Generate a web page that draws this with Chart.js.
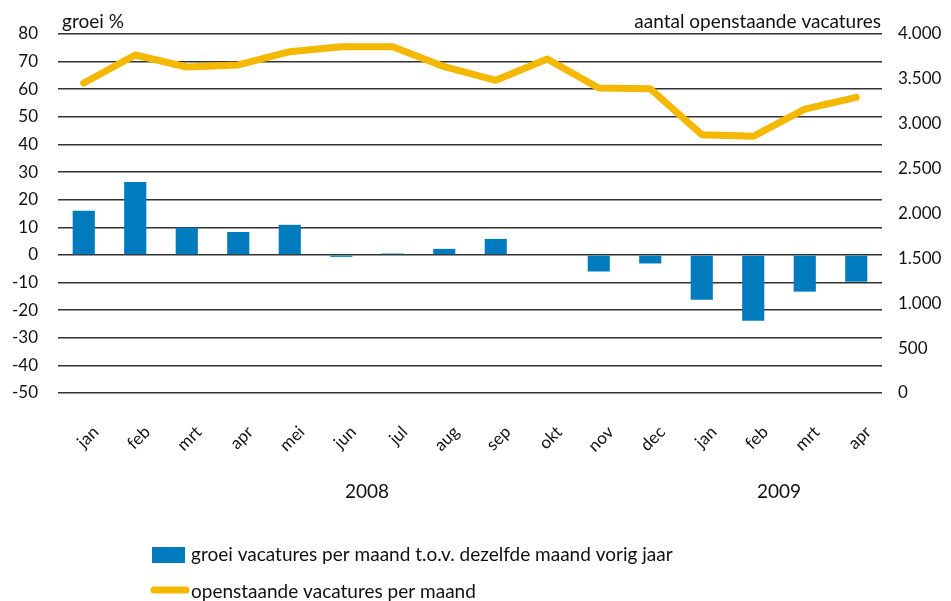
<!DOCTYPE html>
<html lang="nl">
<head>
<meta charset="UTF-8">
<title>Vacatures 2008-2009</title>
<script src="https://cdn.jsdelivr.net/npm/chart.js"></script>
<style>
  html, body { margin: 0; padding: 0; background: #fff; }
  #wrap { width: 951px; height: 601px; }
</style>
</head>
<body>
<div id="wrap"><canvas id="chart" width="951" height="601"></canvas></div>
<script>
// Gegevens
const months = ['jan', 'feb', 'mrt', 'apr', 'mei', 'jun', 'jul', 'aug', 'sep', 'okt', 'nov', 'dec', 'jan', 'feb', 'mrt', 'apr'];
const years = ['2008', '2009'];
const yearSpans = [[0, 11], [12, 15]]; // eerste en laatste maand per jaar
const growth = [16, 26.4, 9.9, 8.3, 10.9, -0.7, 0.5, 2.2, 5.8, 0, -6, -3.1, -16.2, -23.8, -13.3, -9.7];
const openVacancies = [3454, 3766, 3632, 3655, 3803, 3858, 3858, 3636, 3484, 3721, 3398, 3390, 2878, 2860, 3162, 3294];
const leftTicks = { min: -50, max: 80, step: 10 };
const rightTicks = { min: 0, max: 4000, step: 500 };

const FONT = 'Lato, "Open Sans", sans-serif';
const blue = '#007bbd';
const yellow = '#f4b800';

// titels, jaartallen en legenda
const extras = {
  id: 'extras',
  afterDraw(chart) {
    const c = chart.ctx;
    const area = chart.chartArea;
    const x = chart.scales.x;
    c.save();
    c.fillStyle = '#111';
    c.font = '19px ' + FONT;
    c.textBaseline = 'alphabetic';
    c.textAlign = 'left';
    c.fillText('groei %', area.left + 4, 28);
    c.textAlign = 'right';
    c.fillText('aantal openstaande vacatures', area.right - 1, 28);

    // jaartallen
    c.textAlign = 'center';
    c.font = '19px ' + FONT;
    years.forEach((y, i) => {
      const a = x.getPixelForValue(yearSpans[i][0]);
      const b = x.getPixelForValue(yearSpans[i][1]);
      c.fillText(y, (a + b) / 2, 498);
    });

    // legenda
    const bars = chart.data.datasets[1];
    const line = chart.data.datasets[0];
    c.textAlign = 'left';
    c.textBaseline = 'middle';
    c.font = '19px ' + FONT;
    c.fillStyle = bars.backgroundColor;
    c.fillRect(152, 547, 33, 16);
    c.fillStyle = '#111';
    c.fillText(bars.label, 191, 555);
    c.strokeStyle = line.borderColor;
    c.lineWidth = 7;
    c.lineCap = 'round';
    c.beginPath();
    c.moveTo(154, 590);
    c.lineTo(186, 590);
    c.stroke();
    c.fillText(line.label, 191, 592);
    c.restore();
  }
};

new Chart(document.getElementById('chart'), {
  type: 'bar',
  data: {
    labels: months,
    datasets: [
      {
        type: 'line',
        label: 'openstaande vacatures per maand',
        data: openVacancies,
        yAxisID: 'y1',
        borderColor: yellow,
        backgroundColor: yellow,
        borderWidth: 7,
        borderCapStyle: 'round',
        borderJoinStyle: 'round',
        pointRadius: 0,
        tension: 0,
        order: 0
      },
      {
        type: 'bar',
        label: 'groei vacatures per maand t.o.v. dezelfde maand vorig jaar',
        data: growth,
        yAxisID: 'y',
        backgroundColor: blue,
        categoryPercentage: 1,
        barPercentage: 0.43,
        order: 1
      }
    ]
  },
  plugins: [extras],
  options: {
    responsive: false,
    animation: false,
    layout: { padding: { top: 34, left: 0, right: 0, bottom: 0 } },
    plugins: {
      legend: { display: false },
      tooltip: { enabled: false }
    },
    scales: {
      x: {
        offset: true,
        grid: { display: false, drawTicks: false },
        border: { display: false },
        ticks: {
          color: '#111',
          font: { family: FONT, size: 17 },
          minRotation: 45,
          maxRotation: 45,
          padding: 29,
          labelOffset: 12,
          autoSkip: false
        },
        afterFit(s) { s.height = 601 - 393; }
      },
      y: {
        position: 'left',
        min: leftTicks.min,
        max: leftTicks.max,
        grid: { color: '#333', lineWidth: 1.5, drawTicks: false },
        border: { display: false },
        ticks: {
          stepSize: leftTicks.step,
          color: '#111',
          font: { family: FONT, size: 17 },
          padding: 20
        },
        afterFit(s) { s.width = 58; }
      },
      y1: {
        position: 'right',
        min: rightTicks.min,
        max: rightTicks.max,
        grid: { display: false, drawTicks: false },
        border: { display: false },
        ticks: {
          stepSize: rightTicks.step,
          color: '#111',
          font: { family: FONT, size: 17 },
          padding: 16,
          callback: v => v.toLocaleString('de-DE')
        },
        afterFit(s) { s.width = 951 - 882; }
      }
    }
  }
});
</script>
</body>
</html>
